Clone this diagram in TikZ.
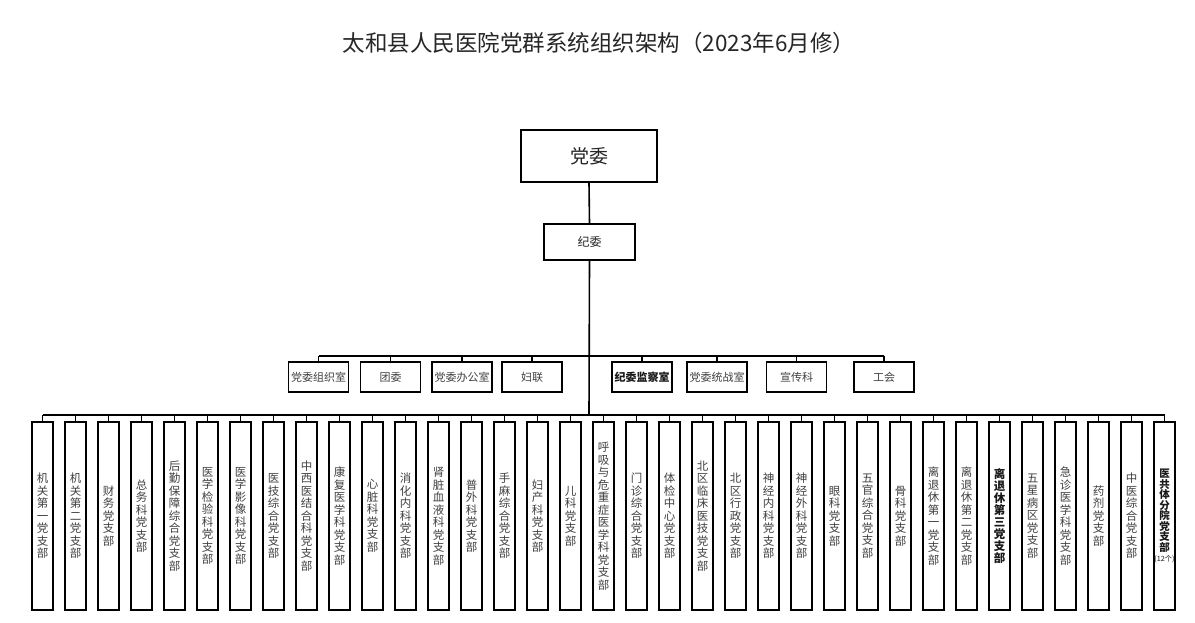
\documentclass[tikz,border=0pt]{standalone}
\usepackage{fontspec}
\setmainfont{Noto Sans CJK SC}
\begin{document}
\begin{tikzpicture}[x=1pt,y=-1pt,
  box/.style={draw=black,line width=1.3pt,inner sep=0pt,align=center,text=black!75},
  vbox/.style={box,minimum width=21pt,minimum height=188pt,font=\fontsize{11.5}{12.5}\selectfont},
  vboxb/.style={vbox,font=\fontsize{11.5}{12}\selectfont\bfseries,text=black!90},
  mbox/.style={box,minimum width=60pt,minimum height=30pt,font=\fontsize{11}{13}\selectfont},
  link/.style={line width=1.2pt}]
\useasboundingbox (0,0) rectangle (1195,622);
\fill[white] (0,0) rectangle (1195,622);
% title
\node[font=\fontsize{22.5}{24}\selectfont,text=black!85] (title) at (599,43) {太和县人民医院党群系统组织架构（2023年6月修）};
% top
\node[box,minimum width=136pt,minimum height=52pt,font=\fontsize{19}{20}\selectfont,text=black!85] (dw) at (589,156) {党委};
\node[box,minimum width=91pt,minimum height=36pt,font=\fontsize{12}{13}\selectfont,text=black!85] (jw) at (589.5,242) {纪委};
% middle row
\node[mbox] (m1) at (318.5,377) {党委组织室};
\node[mbox] (m2) at (390.5,377) {团委};
\node[mbox] (m3) at (462,377) {党委办公室};
\node[mbox] (m4) at (532,377) {妇联};
\node[mbox,font=\fontsize{11}{13}\selectfont\bfseries,text=black!90] (m5) at (642,377) {纪委监察室};
\node[mbox] (m6) at (717,377) {党委统战室};
\node[mbox] (m7) at (796.5,377) {宣传科};
\node[mbox] (m8) at (884,377) {工会};
% bottom row
\foreach \t [count=\i] in {
 {机\\关\\第\\一\\党\\支\\部},
 {机\\关\\第\\二\\党\\支\\部},
 {财\\务\\党\\支\\部},
 {总\\务\\科\\党\\支\\部},
 {后\\勤\\保\\障\\综\\合\\党\\支\\部},
 {医\\学\\检\\验\\科\\党\\支\\部},
 {医\\学\\影\\像\\科\\党\\支\\部},
 {医\\技\\综\\合\\党\\支\\部},
 {中\\西\\医\\结\\合\\科\\党\\支\\部},
 {康\\复\\医\\学\\科\\党\\支\\部},
 {心\\脏\\科\\党\\支\\部},
 {消\\化\\内\\科\\党\\支\\部},
 {肾\\脏\\血\\液\\科\\党\\支\\部},
 {普\\外\\科\\党\\支\\部},
 {手\\麻\\综\\合\\党\\支\\部},
 {妇\\产\\科\\党\\支\\部},
 {儿\\科\\党\\支\\部},
 {呼\\吸\\与\\危\\重\\症\\医\\学\\科\\党\\支\\部},
 {门\\诊\\综\\合\\党\\支\\部},
 {体\\检\\中\\心\\党\\支\\部},
 {北\\区\\临\\床\\医\\技\\党\\支\\部},
 {北\\区\\行\\政\\党\\支\\部},
 {神\\经\\内\\科\\党\\支\\部},
 {神\\经\\外\\科\\党\\支\\部},
 {眼\\科\\党\\支\\部},
 {五\\官\\综\\合\\党\\支\\部},
 {骨\\科\\党\\支\\部},
 {离\\退\\休\\第\\一\\党\\支\\部},
 {离\\退\\休\\第\\二\\党\\支\\部},
 {},
 {五\\星\\病\\区\\党\\支\\部},
 {急\\诊\\医\\学\\科\\党\\支\\部},
 {药\\剂\\党\\支\\部},
 {中\\医\\综\\合\\党\\支\\部},
 {}}
{
  \ifnum\i=30\relax
    \node[vboxb] (b\i) at ({42.5+33*(\i-1)},516) {离\\退\\休\\第\\三\\党\\支\\部};
  \else\ifnum\i=35\relax
    \node[vboxb,font=\fontsize{10.5}{10.5}\selectfont\bfseries] (b\i) at ({42.5+33*(\i-1)},516) {医\\共\\体\\分\\院\\党\\支\\部\\{\fontsize{7.2}{11}\selectfont\mdseries(12个)}};
  \else
    \node[vbox] (b\i) at ({42.5+33*(\i-1)},516) {\t};
  \fi\fi
}
% connectors
\coordinate (mbar) at (589,356);
\coordinate (bbar) at (589,415);
\draw[line width=1.6pt] (dw.south) -- (jw.north);
\draw[line width=1.6pt] (jw.south) -- (bbar);
\draw[link] (m1.north |- mbar) -- (m8.north |- mbar);
\foreach \i in {1,...,8} \draw[link] (m\i.north) -- (m\i.north |- mbar);
\draw[line width=2pt] (b1.north |- bbar) -- (b35.north |- bbar);
\foreach \i in {1,...,35} \draw[link] (b\i.north) -- (b\i.north |- bbar);
\end{tikzpicture}
\end{document}
